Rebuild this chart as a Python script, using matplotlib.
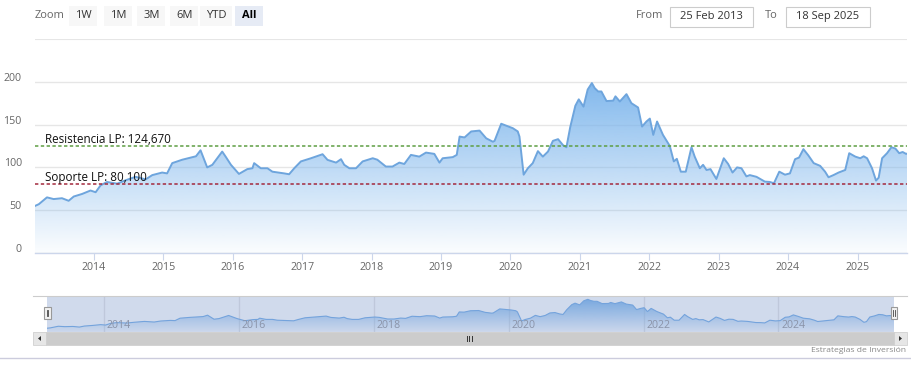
import matplotlib
matplotlib.use('Agg')
import matplotlib.pyplot as plt
import matplotlib.dates as mdates
import numpy as np
import pandas as pd
from matplotlib.patches import Rectangle, Polygon
from matplotlib.transforms import ScaledTranslation
from matplotlib.colors import to_rgb

# ---------------- data ----------------
dates = [
    "2013-02-25", "2013-03-17", "2013-04-29", "2013-06-03", "2013-07-17", "2013-08-21",
    "2013-09-17", "2013-10-31", "2013-12-14", "2014-01-10", "2014-02-05", "2014-03-11",
    "2014-05-03", "2014-06-17", "2014-08-08", "2014-09-30", "2014-11-04", "2014-12-26",
    "2015-01-21", "2015-02-17", "2015-04-11", "2015-05-16", "2015-06-22", "2015-07-16",
    "2015-08-20", "2015-09-16", "2015-11-07", "2015-11-25", "2015-12-23", "2016-02-03",
    "2016-03-18", "2016-04-14", "2016-04-23", "2016-05-28", "2016-07-02", "2016-07-28",
    "2016-09-28", "2016-10-24", "2016-11-20", "2016-12-25", "2017-02-16", "2017-04-18",
    "2017-05-14", "2017-06-28", "2017-07-24", "2017-08-10", "2017-09-06", "2017-10-11",
    "2017-11-15", "2018-01-07", "2018-01-31", "2018-03-17", "2018-04-21", "2018-05-27",
    "2018-06-22", "2018-07-27", "2018-09-09", "2018-10-14", "2018-11-27", "2018-12-24",
    "2019-01-10", "2019-03-04", "2019-03-25", "2019-04-09", "2019-05-05", "2019-06-09",
    "2019-07-23", "2019-08-27", "2019-10-01", "2019-10-10", "2019-11-14", "2020-01-14",
    "2020-02-09", "2020-02-18", "2020-03-11", "2020-04-02", "2020-04-28", "2020-05-25",
    "2020-06-20", "2020-07-17", "2020-08-12", "2020-09-08", "2020-10-04", "2020-10-22",
    "2020-11-11", "2020-12-08", "2020-12-26", "2021-01-20", "2021-02-11", "2021-03-05",
    "2021-03-20", "2021-04-07", "2021-04-24", "2021-05-21", "2021-06-25", "2021-07-07",
    "2021-07-30", "2021-09-03", "2021-09-29", "2021-11-03", "2021-11-24", "2021-12-17",
    "2022-01-04", "2022-01-22", "2022-02-11", "2022-03-14", "2022-04-19", "2022-05-10",
    "2022-05-26", "2022-06-16", "2022-07-12", "2022-08-11", "2022-08-28", "2022-09-24",
    "2022-10-11", "2022-10-29", "2022-11-19", "2022-12-20", "2023-01-28", "2023-02-20",
    "2023-03-15", "2023-04-08", "2023-05-01", "2023-05-27", "2023-06-14", "2023-07-19",
    "2023-09-01", "2023-09-27", "2023-10-19", "2023-11-16", "2023-12-16", "2024-01-11",
    "2024-02-07", "2024-02-28", "2024-03-22", "2024-04-17", "2024-05-15", "2024-06-18",
    "2024-07-14", "2024-08-01", "2024-08-27", "2024-09-23", "2024-10-28", "2024-11-18",
    "2024-12-20", "2025-01-15", "2025-02-02", "2025-02-20", "2025-03-18", "2025-04-08",
    "2025-04-22", "2025-05-10", "2025-06-05", "2025-06-28", "2025-07-19", "2025-08-08",
    "2025-08-26", "2025-09-13", "2025-09-18",
]
values = [
    55, 57, 65, 63, 64, 61,
    66, 69, 73, 71, 79, 83,
    81, 85, 89, 86, 91, 94,
    93, 105, 109, 111, 113, 120,
    100, 103, 118.5, 112.6, 103, 92.4,
    98, 99, 105, 99, 99, 95,
    93, 92, 99, 107, 110.7, 115.4,
    108.8, 105.6, 109.6, 103, 99, 99,
    107, 110.7, 109, 101, 101, 105.6,
    104, 114.6, 112.6, 117.3, 115.8, 105.6,
    110.7, 112, 114.6, 136, 135, 142,
    143, 134, 130, 131, 151, 145.8,
    142, 136, 91.5, 99, 105, 119,
    112.6, 118.5, 131, 133, 126, 123.5,
    147, 172, 179.5, 171, 191, 198.5,
    192.6, 188.7, 188.7, 177.5, 178, 183,
    177, 185.6, 175, 170, 147.7, 153.6,
    157, 138, 153.6, 138, 125, 107,
    110, 95, 95, 123.6, 112.6, 99,
    103, 97, 98, 86.5, 110.7, 104,
    94, 100, 99, 89.5, 91, 89,
    83.4, 83, 81.5, 95, 91.5, 93,
    109.6, 111.5, 121.3, 114, 105, 101.8,
    95, 88.5, 91, 94, 97, 116.6,
    112.6, 110.7, 113, 110.7, 99, 84.6,
    88, 110.7, 116.6, 123.6, 122, 116.6,
    118, 115.8, 116,
]
year_ticks = list(range(2014, 2026))
nav_year_ticks = [2014, 2016, 2018, 2020, 2022, 2024]
y_ticks = [0, 50, 100, 150, 200]
y_max = 250
resistance = 124.670
support = 80.100
resistance_label = "Resistencia LP: 124,670"
support_label = "Soporte LP: 80,100"
zoom_buttons = ["1W", "1M", "3M", "6M", "YTD", "All"]
selected_button = "All"
from_date = "25 Feb 2013"
to_date = "18 Sep 2025"
credit = "Estrategias de Inversión"

# ---------------- style ----------------
plt.rcParams['font.family'] = ['Open Sans', 'DejaVu Sans']
W, H = 912, 370
fig = plt.figure(figsize=(W / 100, H / 100), dpi=100)
fig.patch.set_facecolor('white')


def fr(x0, y0, x1, y1):
    return [x0 / W, 1 - y1 / H, (x1 - x0) / W, (y1 - y0) / H]


SERIES = '#7cb5ec'
LINE = '#6ea5dd'
GRID = '#e6e6e6'
AXIS = '#ccd6eb'
LABEL = '#666666'

x = mdates.date2num(pd.to_datetime(dates))
v = np.array(values, dtype=float)


def grad_fill(a, xs, vs, base, top, color, a_top, a_bot, z):
    poly = Polygon(np.column_stack([np.r_[xs[0], xs, xs[-1]], np.r_[base, vs, base]]),
                   closed=True, facecolor='none', edgecolor='none')
    a.add_patch(poly)
    n = 256
    img = np.zeros((n, 1, 4))
    img[:, :, :3] = to_rgb(color)
    img[:, 0, 3] = np.linspace(a_top, a_bot, n)
    im = a.imshow(img, extent=[xs[0], xs[-1], base, top], origin='upper',
                  aspect='auto', zorder=z, interpolation='bilinear')
    im.set_clip_path(poly)


# ---------------- main chart ----------------
ax = fig.add_axes(fr(35, 39, 907, 253))
ax.set_facecolor('none')
grad_fill(ax, x, v, 0, v.max(), SERIES, 0.95, 0.03, 1)
ax.plot(x, v, color=LINE, lw=1.4, zorder=3, solid_joinstyle='round')
ax.set_xlim(x[0], x[-1])
ax.set_ylim(0, y_max)
ax.set_yticks(y_ticks)
ax.set_yticklabels([str(t) for t in y_ticks])
ax.yaxis.grid(True, color=GRID, lw=1)
ax.axhline(y_max, color=GRID, lw=1.5, zorder=0)
ax.set_axisbelow(True)
ax.set_xticks(mdates.date2num(pd.to_datetime([f"{y}-01-01" for y in year_ticks])))
ax.set_xticklabels([str(y) for y in year_ticks])
for s in ['top', 'right', 'left']:
    ax.spines[s].set_visible(False)
ax.spines['bottom'].set_color(AXIS)
ax.spines['bottom'].set_linewidth(1)
ax.tick_params(axis='x', length=5, width=0.8, color=AXIS, labelsize=7.7,
               labelcolor=LABEL, pad=1.5)
ax.tick_params(axis='y', length=0, labelsize=7.7, labelcolor=LABEL, pad=9.5)
off = ScaledTranslation(0, 5 / 100, fig.dpi_scale_trans)
for lab in ax.get_yticklabels():
    lab.set_transform(lab.get_transform() + off)

ax.axhline(resistance, color='#5e9e43', lw=1.1, ls=(0, (2.2, 1.6)), zorder=4)
ax.axhline(support, color='#a3293d', lw=1.1, ls=(0, (2.2, 1.6)), zorder=4)
ax.annotate(resistance_label, xy=(10 / 872, resistance), xycoords=('axes fraction', 'data'),
            xytext=(0, 3), textcoords='offset pixels', va='baseline', ha='left',
            fontsize=8.4, color='#111111', zorder=5)
ax.annotate(support_label, xy=(10 / 872, support), xycoords=('axes fraction', 'data'),
            xytext=(0, 3), textcoords='offset pixels', va='baseline', ha='left',
            fontsize=8.4, color='#111111', zorder=5)

# ---------------- navigator ----------------
nav = fig.add_axes(fr(46.7, 296, 894, 331.7))
nav.set_facecolor('white')
nav_lo, nav_hi = 38, 215
for yv in nav_year_ticks:
    nav.axvline(mdates.date2num(pd.Timestamp(f"{yv}-01-01")), color=GRID, lw=1, zorder=0)
grad_fill(nav, x, v, nav_lo, v.max(), SERIES, 0.95, 0.05, 1)
nav.plot(x, v, color='#74a3dc', lw=0.8, zorder=3)
nav.add_patch(Rectangle((0, 0), 1, 1, transform=nav.transAxes,
                        facecolor=(102 / 255, 133 / 255, 194 / 255, 0.3),
                        edgecolor='none', zorder=2))
nav.set_xlim(x[0], x[-1])
nav.set_ylim(nav_lo, nav_hi)
nav.set_xticks([])
nav.set_yticks([])
for s in nav.spines.values():
    s.set_visible(False)
for yv in nav_year_ticks:
    nav.annotate(str(yv), xy=(mdates.date2num(pd.Timestamp(f"{yv}-01-01")), 0),
                 xycoords=('data', 'axes fraction'), xytext=(3, 4),
                 textcoords='offset pixels', ha='left', va='baseline',
                 fontsize=7.7, color='#8a93a8', zorder=4)

# ---------------- UI overlay ----------------
ov = fig.add_axes([0, 0, 1, 1], zorder=5)
ov.set_xlim(0, W)
ov.set_ylim(H, 0)
ov.axis('off')
ov.patch.set_alpha(0)

# toolbar
ov.text(35, 16, "Zoom", ha='left', va='center', fontsize=8, color=LABEL)
btn_cx = [83, 118, 151.5, 184.5, 216.5, 249.5]
for lab, cx in zip(zoom_buttons, btn_cx):
    sel = lab == selected_button
    bw = 32 if lab == "YTD" else 28
    ov.add_patch(Rectangle((cx - bw / 2, 6), bw, 20, facecolor='#e6ebf5' if sel else '#f7f7f7',
                           edgecolor='none'))
    ov.text(cx, 16, lab, ha='center', va='center', fontsize=8,
            color='#000000' if sel else '#333333', fontweight='bold' if sel else 'normal')

ov.text(636, 16, "From", ha='left', va='center', fontsize=8, color=LABEL)
ov.add_patch(Rectangle((670, 7), 83, 20, facecolor='white', edgecolor='#cccccc', lw=0.8))
ov.text(711.5, 16.5, from_date, ha='center', va='center', fontsize=8, color='#333333')
ov.text(765, 16, "To", ha='left', va='center', fontsize=8, color=LABEL)
ov.add_patch(Rectangle((786, 7), 84, 20, facecolor='white', edgecolor='#cccccc', lw=0.8))
ov.text(828, 16.5, to_date, ha='center', va='center', fontsize=8, color='#333333')

# navigator outline
ov.plot([33, 907], [296, 296], color='#cccccc', lw=0.8)

# handles
for hx in (44.3, 890.6):
    ov.add_patch(Rectangle((hx, 306.5), 6.4, 12.5, facecolor='#f2f2f2', edgecolor='#999999', lw=0.8))
    for dx in (2.3, 4.1):
        ov.plot([hx + dx, hx + dx], [309.5, 316], color='#444444', lw=0.6)

# scrollbar
ov.add_patch(Rectangle((33, 332), 874, 13, facecolor='#f2f2f2', edgecolor='none'))
ov.add_patch(Rectangle((46.5, 332), 847.5, 13, facecolor='#cccccc', edgecolor='#cccccc', lw=0.5))
for bx in (33, 894):
    ov.add_patch(Rectangle((bx, 332), 13, 13, facecolor='#e6e6e6', edgecolor='#cccccc', lw=0.5))
ov.add_patch(Polygon([[38, 338.5], [41, 336], [41, 341]], closed=True, facecolor='#333333', edgecolor='none'))
ov.add_patch(Polygon([[902, 338.5], [899, 336], [899, 341]], closed=True, facecolor='#333333', edgecolor='none'))
for gx in (467, 469.5, 472):
    ov.plot([gx, gx], [335.5, 341], color='#333333', lw=0.7)

# credit and bottom line
ov.text(906, 351, credit, ha='right', va='center', fontsize=6.1, color='#888888')
ov.plot([0, W], [358, 358], color='#ccccdd', lw=1)

fig.savefig('out.png', dpi=100)
